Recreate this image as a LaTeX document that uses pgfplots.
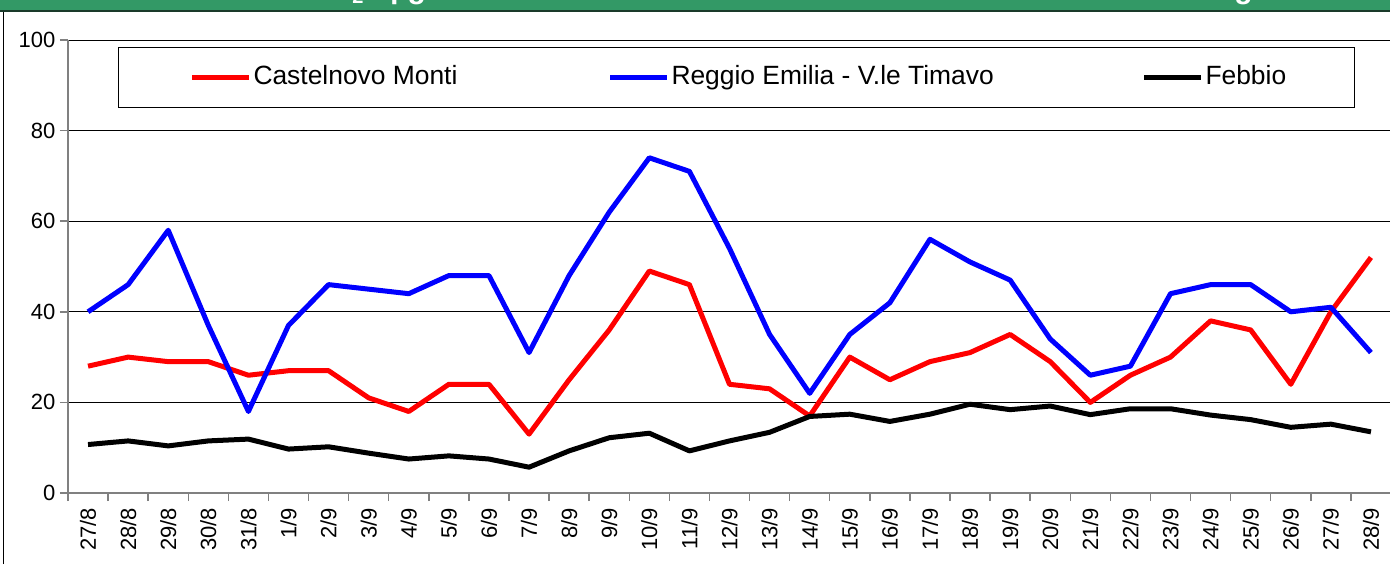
\documentclass[border=0pt]{standalone}
\usepackage{pgfplots}
\pgfplotsset{compat=1.18}
\usepackage{fontspec}
\setmainfont{Liberation Sans}
\definecolor{barg}{HTML}{339966}
\definecolor{bard}{HTML}{1A3A2A}
\begin{document}
\begin{tikzpicture}[x=1pt,y=1pt]
\fill[white] (0,0) rectangle (695,282);
\fill[barg] (0,277) rectangle (695,282);
\fill[bard] (0,276) rectangle (695,277.2);
\begin{scope}
\clip (0,277.2) rectangle (695,282);
\node[white, font=\bfseries\fontsize{10}{12}\selectfont, anchor=base, inner sep=0pt] at (179,280) {2};
\node[white, font=\bfseries\fontsize{15}{18}\selectfont, anchor=base west, inner sep=0pt] at (195,282.8) {µg};
\node[white, font=\bfseries\fontsize{15}{18}\selectfont, anchor=base west, inner sep=0pt] at (617,282.8) {g};
\end{scope}
\draw[black, line width=0.6pt] (1.8,0) -- (1.8,276);
\begin{axis}[
  scale only axis, width=661.5pt, height=226.5pt,
  at={(34pt,35.5pt)}, anchor=south west,
  xmin=-0.5, xmax=32.5, ymin=0, ymax=100,
  axis x line*=bottom, axis y line*=left,
  axis line style={gray, line width=1pt},
  xtick={0,...,32},
  xticklabels={27/8,28/8,29/8,30/8,31/8,1/9,2/9,3/9,4/9,5/9,6/9,7/9,8/9,9/9,10/9,11/9,12/9,13/9,14/9,15/9,16/9,17/9,18/9,19/9,20/9,21/9,22/9,23/9,24/9,25/9,26/9,27/9,28/9},
  minor xtick={-0.5,0.5,...,32.5},
  major x tick style={draw=none},
  ytick={0,20,...,100},
  tick align=outside,
  major tick length=4pt, minor tick length=4pt,
  tick style={gray, line width=0.75pt},
  ymajorgrids,
  major y grid style={black, line width=0.5pt},
  xticklabel style={rotate=90, anchor=east, font=\fontsize{11}{13}\selectfont},
  yticklabel style={font=\fontsize{11}{13}\selectfont, xshift=1.2pt},
  /pgf/number format/assume math mode=true,
  legend columns=3,
  legend style={at={(0.0378,0.917)}, anchor=west, draw=black, line width=0.5pt, fill=white,
    inner xsep=35.5pt, inner ysep=9pt,
    font=\fontsize{13.2}{15}\selectfont,
    nodes={inner xsep=1pt, inner ysep=0pt, text height=9.6pt, text depth=2.8pt}},
  legend image code/.code={\draw[#1, line width=2.5pt] (0pt,0pt) -- (28.5pt,0pt);},
  every axis plot/.append style={line width=2.5pt, line join=round},
]
\addplot[red] coordinates {(0,28)(1,30)(2,29)(3,29)(4,26)(5,27)(6,27)(7,21)(8,18)(9,24)(10,24)(11,13)(12,25)(13,36)(14,49)(15,46)(16,24)(17,23)(18,17)(19,30)(20,25)(21,29)(22,31)(23,35)(24,29)(25,20)(26,26)(27,30)(28,38)(29,36)(30,24)(31,40)(32,52)};
\addlegendentry{\makebox[176pt][l]{Castelnovo Monti}}
\addplot[blue] coordinates {(0,40)(1,46)(2,58)(3,37)(4,18)(5,37)(6,46)(7,45)(8,44)(9,48)(10,48)(11,31)(12,48)(13,62)(14,74)(15,71)(16,54)(17,35)(18,22)(19,35)(20,42)(21,56)(22,51)(23,47)(24,34)(25,26)(26,28)(27,44)(28,46)(29,46)(30,40)(31,41)(32,31)};
\addlegendentry{\makebox[234pt][l]{Reggio Emilia - V.le Timavo}}
\addplot[black] coordinates {(0,10.7)(1,11.5)(2,10.4)(3,11.5)(4,11.9)(5,9.7)(6,10.2)(7,8.8)(8,7.5)(9,8.2)(10,7.5)(11,5.7)(12,9.3)(13,12.2)(14,13.2)(15,9.3)(16,11.5)(17,13.4)(18,16.9)(19,17.4)(20,15.8)(21,17.4)(22,19.6)(23,18.4)(24,19.2)(25,17.3)(26,18.6)(27,18.6)(28,17.2)(29,16.2)(30,14.5)(31,15.2)(32,13.5)};
\addlegendentry{\makebox[38pt][l]{Febbio}}
\end{axis}
\pgfresetboundingbox
\path[use as bounding box] (0,0) rectangle (695,282);
\end{tikzpicture}
\end{document}
